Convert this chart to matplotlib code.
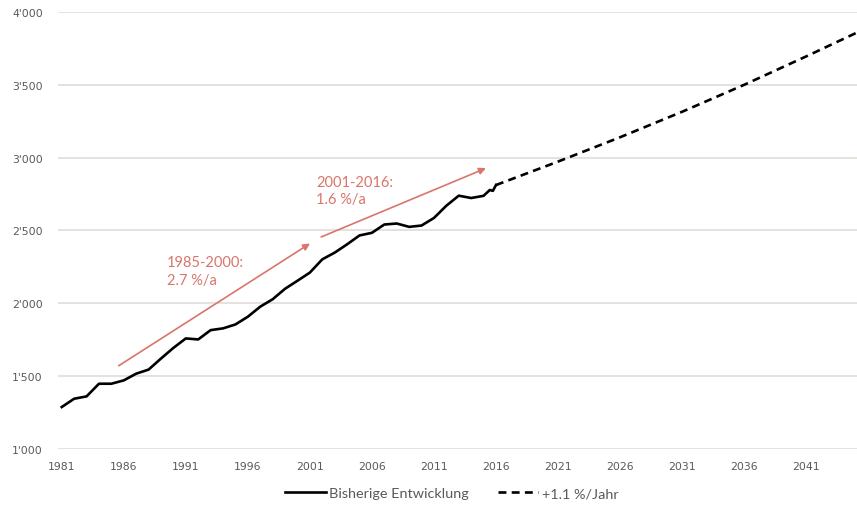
import matplotlib.pyplot as plt
from matplotlib.ticker import FuncFormatter

# historic development
years = [1981, 1982, 1983, 1984, 1985, 1986, 1987, 1988, 1989, 1990,
         1991, 1992, 1993, 1994, 1995, 1996, 1997, 1998, 1999, 2000,
         2001, 2002, 2003, 2004, 2005, 2006, 2007, 2008, 2009, 2010,
         2011, 2012, 2013, 2014, 2015, 2015.5, 2015.75, 2016]
values = [1288, 1345, 1361, 1448, 1448, 1471, 1517, 1545, 1621, 1694,
          1759, 1752, 1816, 1828, 1855, 1908, 1977, 2028, 2100, 2155,
          2211, 2302, 2348, 2405, 2466, 2484, 2541, 2548, 2525, 2534,
          2586, 2670, 2739, 2723, 2738, 2778, 2772, 2812]

# projection +1.1 %/Jahr
proj_years = [2016, 2021, 2026, 2031, 2036, 2041, 2045]
proj_values = [2812, 2973, 3140, 3315, 3500, 3695, 3855]

tick_years = list(range(1981, 2045, 5))
y_ticks = [1000, 1500, 2000, 2500, 3000, 3500, 4000]

red = '#D9756B'
grey = '#595959'

fig = plt.figure(figsize=(8.57, 5.06), dpi=100)
ax = fig.add_axes([0.0677, 0.1107, 0.9323, 0.8636])
plt.rcParams['font.family'] = ['Lato', 'DejaVu Sans']

ax.plot(years, values, color='black', lw=1.9, label='Bisherige Entwicklung', zorder=3)
ax.plot(proj_years, proj_values, color='black', lw=1.9, ls=(0, (3, 2)),
        label='+1.1 %/Jahr', zorder=3)

# growth-rate arrows
ax.annotate('', xy=(2001.2, 2421), xytext=(1985.4, 1561),
            arrowprops=dict(arrowstyle='-|>', color=red, lw=1.2, mutation_scale=10))
ax.annotate('', xy=(2015.4, 2935), xytext=(2001.7, 2448),
            arrowprops=dict(arrowstyle='-|>', color=red, lw=1.2, mutation_scale=10))
ax.text(1989.5, 2330, '1985-2000:\n2.7 %/a', color=red, fontsize=10.5,
        va='top', ha='left', linespacing=1.3, family=['Lato', 'DejaVu Sans'])
ax.text(2001.5, 2880, '2001-2016:\n1.6 %/a', color=red, fontsize=10.5,
        va='top', ha='left', linespacing=1.3, family=['Lato', 'DejaVu Sans'])

ax.set_xlim(1980.7, 2045.1)
ax.set_ylim(1000, 4000)
ax.set_xticks(tick_years)
ax.set_yticks(y_ticks)
ax.yaxis.set_major_formatter(FuncFormatter(lambda v, p: f"{int(v):,}".replace(',', "'")))
ax.tick_params(length=0, labelsize=7.8, labelcolor=grey)
ax.tick_params(axis='x', pad=9)
ax.tick_params(axis='y', pad=11)
ax.grid(axis='y', color='#E3DCD8', lw=1.2)
ax.set_axisbelow(True)
for s in ax.spines.values():
    s.set_visible(False)

ax.legend(loc='upper center', bbox_to_anchor=(0.493, -0.058), ncol=2, frameon=False,
          fontsize=10.4, handlelength=2.8, handletextpad=0.25, columnspacing=2.0,
          labelcolor=grey)

fig.savefig('out.png', dpi=100)
